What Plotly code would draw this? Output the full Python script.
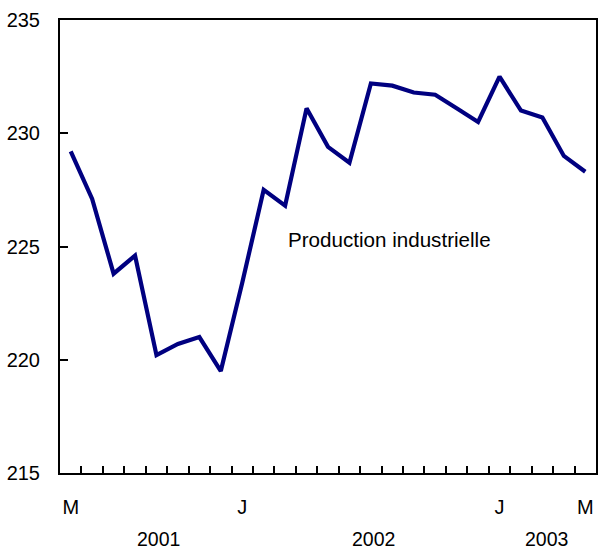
import plotly.graph_objects as go

# Monthly data, May 2001 - May 2003
months = ["M", "J", "J", "A", "S", "O", "N", "D",
          "J", "F", "M", "A", "M", "J", "J", "A", "S", "O", "N", "D",
          "J", "F", "M", "A", "M"]
production = [229.2, 227.1, 223.8, 224.6, 220.2, 220.7, 221.0, 219.5,
              223.4, 227.5, 226.8, 231.1, 229.4, 228.7, 232.2, 232.1,
              231.8, 231.7, 231.1, 230.5, 232.5, 231.0, 230.7, 229.0, 228.3]
month_label_idx = [0, 8, 20, 24]
month_label_txt = ["M", "J", "J", "M"]
years = ["2001", "2002", "2003"]
year_pos = [4.1, 14.1, 22.2]
series_name = "Production industrielle"

x = list(range(len(production)))
FONT = "Liberation Sans, Arial, sans-serif"

fig = go.Figure()
fig.add_trace(go.Scatter(
    x=x, y=production, mode="lines",
    line=dict(color="#000080", width=4.2),
    showlegend=False, hoverinfo="skip",
))

fig.add_annotation(x=10.05, y=225.3, xref="x", yref="y", text=series_name,
                   showarrow=False, xanchor="left", yanchor="middle",
                   font=dict(family=FONT, size=20.6, color="black"))

for yr, pos in zip(years, year_pos):
    fig.add_annotation(x=pos, y=0, xref="x", yref="paper", text=yr,
                       showarrow=False, xanchor="center", yanchor="middle",
                       yshift=-66, font=dict(family=FONT, size=19.5, color="black"))

fig.update_layout(
    width=601, height=552,
    margin=dict(l=60, r=3, t=20, b=79),
    paper_bgcolor="white", plot_bgcolor="white",
    font=dict(family=FONT, size=20, color="black"),
    xaxis=dict(
        range=[-0.5, len(production) - 0.5],
        tickvals=month_label_idx, ticktext=month_label_txt,
        ticks="", showgrid=False, zeroline=False,
        showline=True, linecolor="black", linewidth=2, mirror=True,
        ticklabelstandoff=15,
        minor=dict(tickvals=[i + 0.5 for i in range(len(production) - 1)],
                   ticks="inside", ticklen=7, tickwidth=2, tickcolor="black",
                   showgrid=False),
    ),
    yaxis=dict(
        range=[215, 235], tickvals=[215, 220, 225, 230, 235],
        ticks="inside", ticklen=8, tickwidth=2, tickcolor="black",
        showgrid=False, zeroline=False,
        showline=True, linecolor="black", linewidth=2, mirror=True,
        ticklabelstandoff=14,
    ),
)

fig.write_html("out.html",
               config={"displayModeBar": False},
               post_script="document.body.style.margin='0';document.body.style.overflow='hidden';")
